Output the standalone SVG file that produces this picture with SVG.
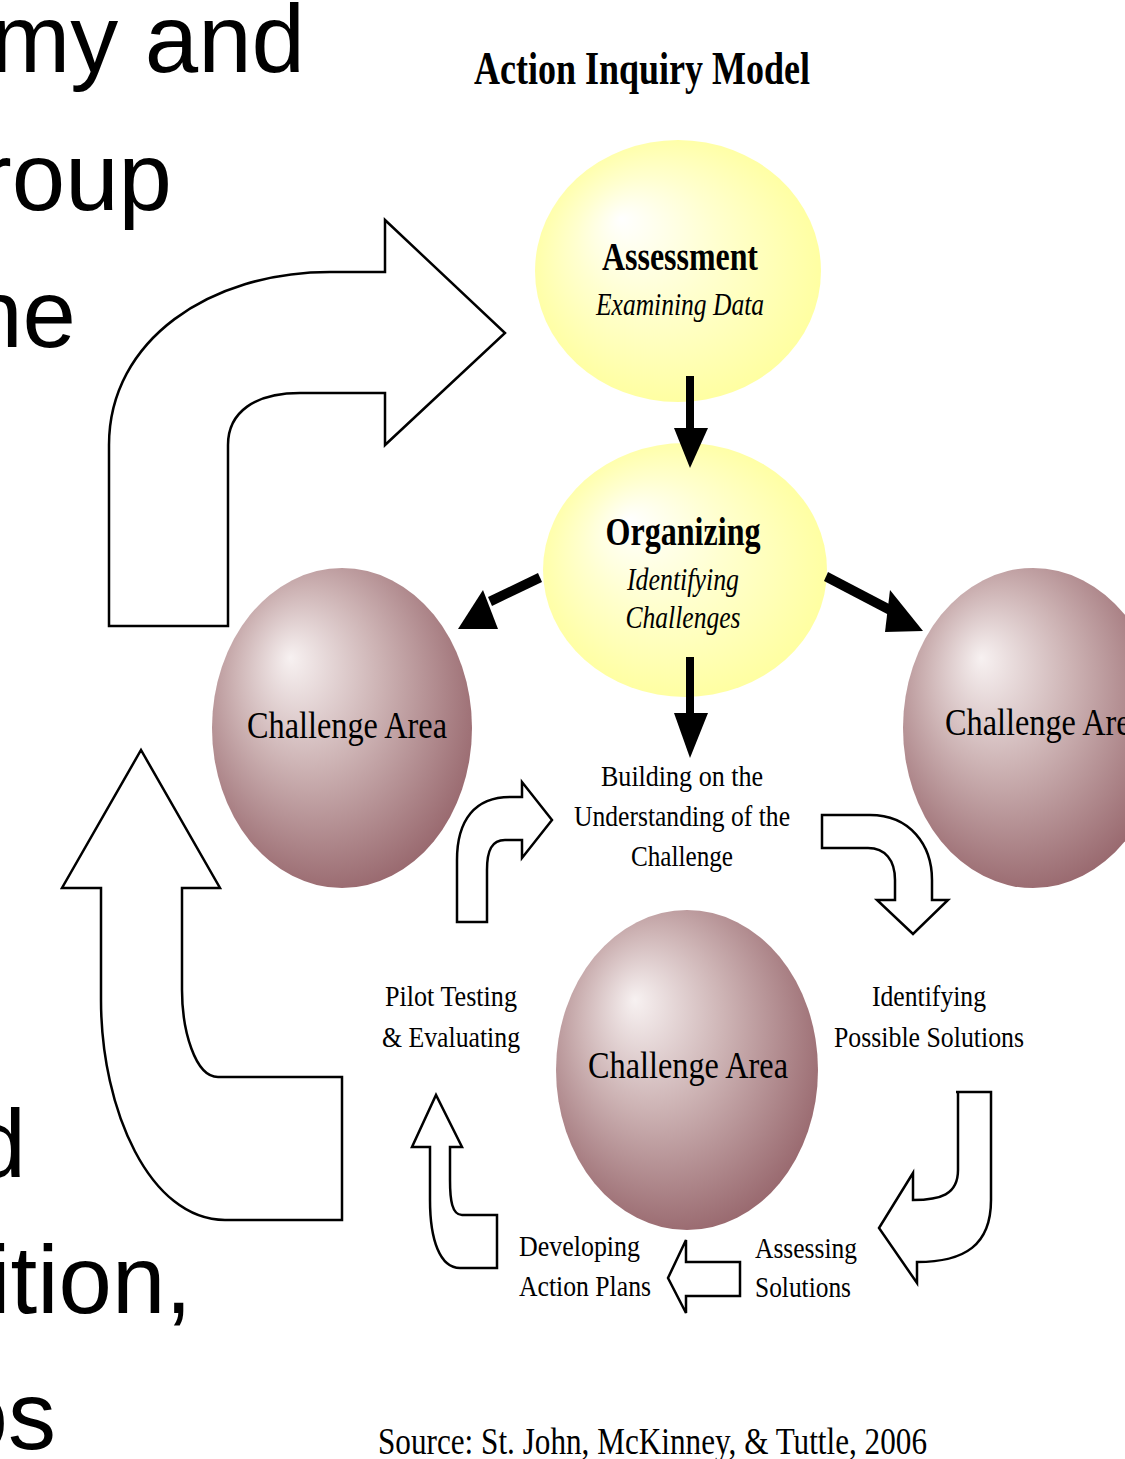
<svg xmlns="http://www.w3.org/2000/svg" width="1125" height="1459" viewBox="0 0 1125 1459">
<defs>
<radialGradient id="yel" cx="0.5" cy="0.5" r="0.55" fx="0.3" fy="0.3">
<stop offset="0" stop-color="#FFFFFF"/>
<stop offset="0.45" stop-color="#FFFFCF"/>
<stop offset="1" stop-color="#FFFF9C"/>
</radialGradient>
<radialGradient id="mauve" cx="0.45" cy="0.42" r="0.62" fx="0.3" fy="0.28">
<stop offset="0" stop-color="#F7F1F1"/>
<stop offset="0.45" stop-color="#CDB3B4"/>
<stop offset="1" stop-color="#96656B"/>
</radialGradient>
</defs>
<style>
.bg{font-family:"Liberation Sans",Arial,sans-serif;font-size:96px;fill:#000;text-anchor:end}
.t{font-family:"Liberation Serif","Times New Roman",serif;fill:#000;text-anchor:middle}
.s{text-anchor:start}
.title{font-size:47px;font-weight:bold}
.hd{font-size:40px;font-weight:bold}
.it{font-size:32px;font-style:italic}
.lb{font-size:30px}
.ca{font-size:38px}
.src{font-size:38px}
.blk{fill:#fff;stroke:#000;stroke-width:2.5;stroke-linejoin:miter}
.solid{fill:#000;stroke:none}
</style>
<rect width="1125" height="1459" fill="#fff"/>
<g id="slide-text">
<text class="bg" x="305" y="72">my and</text>
<text class="bg" x="172" y="210">roup</text>
<text class="bg" x="76" y="347">ne</text>
<text class="bg" x="26" y="1177">d</text>
<text class="bg" x="192" y="1313">ition,</text>
<text class="bg" x="56" y="1449">os</text>
</g>
<text id="title" class="t title" x="642" y="84" textLength="336" lengthAdjust="spacingAndGlyphs">Action Inquiry Model</text>
<g id="assessment">
<ellipse cx="678" cy="271" rx="143" ry="131" fill="url(#yel)"/>
<text class="t hd" x="680" y="270" textLength="156" lengthAdjust="spacingAndGlyphs">Assessment</text>
<text class="t it" x="680" y="315" textLength="168" lengthAdjust="spacingAndGlyphs">Examining Data</text>
</g>
<g id="organizing">
<ellipse cx="685" cy="570" rx="142" ry="127" fill="url(#yel)"/>
<text class="t hd" x="683" y="545" textLength="155" lengthAdjust="spacingAndGlyphs">Organizing</text>
<text class="t it" x="683" y="590" textLength="112" lengthAdjust="spacingAndGlyphs">Identifying</text>
<text class="t it" x="683" y="628" textLength="115" lengthAdjust="spacingAndGlyphs">Challenges</text>
</g>
<g id="challenge-left">
<ellipse cx="342" cy="728" rx="130" ry="160" fill="url(#mauve)"/>
<text class="t ca" x="347" y="738" textLength="200" lengthAdjust="spacingAndGlyphs">Challenge Area</text>
</g>
<g id="challenge-right">
<ellipse cx="1033" cy="728" rx="130" ry="160" fill="url(#mauve)"/>
<text class="t ca" x="1045" y="735" textLength="200" lengthAdjust="spacingAndGlyphs">Challenge Area</text>
</g>
<g id="challenge-bottom">
<ellipse cx="687" cy="1070" rx="131" ry="160" fill="url(#mauve)"/>
<text class="t ca" x="688" y="1078" textLength="200" lengthAdjust="spacingAndGlyphs">Challenge Area</text>
</g>
<g id="building">
<text class="t lb" x="682" y="786" textLength="162" lengthAdjust="spacingAndGlyphs">Building on the</text>
<text class="t lb" x="682" y="826" textLength="216" lengthAdjust="spacingAndGlyphs">Understanding of the</text>
<text class="t lb" x="682" y="866" textLength="102" lengthAdjust="spacingAndGlyphs">Challenge</text>
</g>
<g id="pilot">
<text class="t lb" x="451" y="1006" textLength="132" lengthAdjust="spacingAndGlyphs">Pilot Testing</text>
<text class="t lb" x="451" y="1047" textLength="138" lengthAdjust="spacingAndGlyphs">&amp; Evaluating</text>
</g>
<g id="identifying">
<text class="t lb" x="929" y="1006" textLength="114" lengthAdjust="spacingAndGlyphs">Identifying</text>
<text class="t lb" x="929" y="1047" textLength="190" lengthAdjust="spacingAndGlyphs">Possible Solutions</text>
</g>
<g id="developing">
<text class="t lb s" x="519" y="1256" textLength="121" lengthAdjust="spacingAndGlyphs">Developing</text>
<text class="t lb s" x="519" y="1296" textLength="132" lengthAdjust="spacingAndGlyphs">Action Plans</text>
</g>
<g id="assessing">
<text class="t lb s" x="755" y="1258" textLength="102" lengthAdjust="spacingAndGlyphs">Assessing</text>
<text class="t lb s" x="755" y="1297" textLength="96" lengthAdjust="spacingAndGlyphs">Solutions</text>
</g>
<g id="connectors">
<rect class="solid" x="686" y="376" width="8" height="54"/>
<polygon class="solid" points="674,428 708,428 690,468"/>
<polygon class="solid" points="538,573 542,582 492,606 488,597"/>
<polygon class="solid" points="483,590 498,629 458,629"/>
<polygon class="solid" points="828,572 824,581 889,615 893,606"/>
<polygon class="solid" points="890,590 885,632 923,631"/>
<rect class="solid" x="686" y="657" width="8" height="58"/>
<polygon class="solid" points="674,713 708,713 690,758"/>
<path class="blk" d="M109,626 L109,445 C109,340 210,272 330,272 L385,272 L385,220 L505,333 L385,445 L385,393 L300,393 C255,393 228,412 228,445 L228,626 Z"/>
<path class="blk" d="M101,888 L101,1000 C101,1110 150,1220 225,1220 L342,1220 L342,1077 L218,1077 C195,1077 182,1030 182,990 L182,888 L220,888 L141,750 L62,888 Z"/>
<path class="blk" d="M457,922 L457,860 C457,820 475,797 510,797 L522,797 L522,782 L552,820 L522,858 L522,840 L505,840 C492,840 487,850 487,870 L487,922 Z"/>
<path class="blk" d="M822,815 L870,815 C910,815 932,845 932,880 L932,900 L948,900 L913,934 L877,900 L895,900 L895,880 C895,860 885,848 868,848 L822,848 Z"/>
<path class="blk" d="M956,1092 L991,1092 L991,1200 C991,1245 965,1262 917,1262 L917,1283 L879,1228 L913,1173 L913,1200 C940,1200 958,1195 958,1170 L958,1092 Z"/>
<path class="blk" d="M740,1262 L740,1296 L686,1296 L686,1313 L668,1278 L686,1240 L686,1262 Z"/>
<path class="blk" d="M430,1147 L430,1200 C430,1240 440,1268 460,1268 L497,1268 L497,1215 L462,1215 C452,1215 450,1200 450,1180 L450,1147 L462,1147 L436,1095 L412,1147 Z"/>
</g>
<text id="source" class="t src s" x="378" y="1454" textLength="549" lengthAdjust="spacingAndGlyphs">Source: St. John, McKinney, &amp; Tuttle, 2006</text>
</svg>
